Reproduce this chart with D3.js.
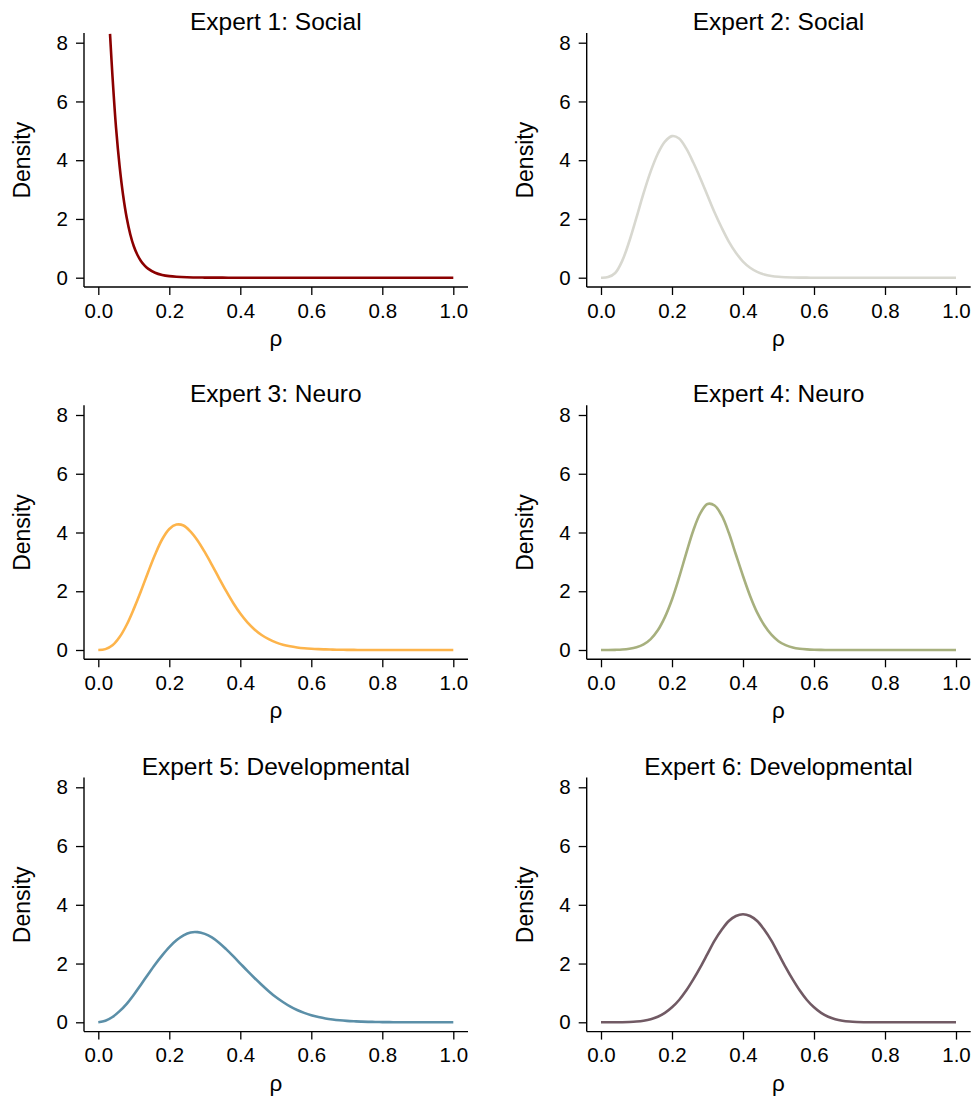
<!DOCTYPE html>
<html>
<head>
<meta charset="utf-8">
<script src="https://cdn.jsdelivr.net/npm/d3@7"></script>
<style>
  body { margin: 0; background: #fff; }
  text { font-family: "Liberation Sans", Arial, Helvetica, sans-serif; fill: #000; }
</style>
</head>
<body>
<script>

var width  = 973;
var height = 1096;

// panel titles and line colours
var titles = [
    'Expert 1: Social', 'Expert 2: Social'
  , 'Expert 3: Neuro',  'Expert 4: Neuro'
  , 'Expert 5: Developmental', 'Expert 6: Developmental'
];
var colors = ['#8b0000', '#d8d8d0', '#fdb44b', '#a7b07e', '#5b8fa8', '#715a64'];

var xTicks = [0, 0.2, 0.4, 0.6, 0.8, 1.0];
var yTicks = [0, 2, 4, 6, 8];

// expert 1 is very steep near zero, so it gets its own grid
var rhoExpert1  = [0.033, 0.04, 0.05, 0.06, 0.07, 0.08, 0.09, 0.10, 0.11, 0.12, 0.13, 0.14,
                   0.16, 0.18, 0.20, 0.22, 0.25, 0.30, 0.35, 0.40, 0.50, 0.60, 0.70, 0.80, 0.90, 1.00];
var densExpert1 = [8.3, 6.85, 5.1, 3.8, 2.8, 2.04, 1.48, 1.07, 0.78, 0.57, 0.42, 0.31,
                   0.17, 0.095, 0.053, 0.03, 0.013, 0.004, 0.001, 0, 0, 0, 0, 0, 0, 0];

// shared grid for experts 2-6
var rho = [0.00, 0.02, 0.04, 0.06, 0.08, 0.10, 0.12, 0.14, 0.16, 0.18,
           0.20, 0.22, 0.24, 0.26, 0.28, 0.30, 0.32, 0.34, 0.36, 0.38,
           0.40, 0.42, 0.44, 0.46, 0.48, 0.50, 0.52, 0.54, 0.56, 0.58,
           0.60, 0.62, 0.64, 0.66, 0.68, 0.70, 0.72, 0.74, 0.76, 0.78,
           0.80, 0.82, 0.84, 0.86, 0.88, 0.90, 0.92, 0.94, 0.96, 0.98, 1.00];

var densExpert2 = [0, 0.02, 0.16, 0.58, 1.25, 2.05, 2.88, 3.62, 4.22, 4.63,
                   4.82, 4.74, 4.4, 3.92, 3.38, 2.8, 2.22, 1.7, 1.23, 0.85,
                   0.55, 0.34, 0.2, 0.11, 0.06, 0.03, 0.015, 0.007, 0.003, 0.001,
                   0, 0, 0, 0, 0, 0, 0, 0, 0, 0,
                   0, 0, 0, 0, 0, 0, 0, 0, 0, 0, 0];

var densExpert3 = [0, 0.03, 0.16, 0.44, 0.86, 1.4, 2.0, 2.64, 3.25, 3.77,
                   4.12, 4.27, 4.24, 4.03, 3.72, 3.33, 2.9, 2.45, 2.01, 1.6,
                   1.24, 0.94, 0.7, 0.51, 0.37, 0.26, 0.18, 0.125, 0.087, 0.06,
                   0.042, 0.029, 0.02, 0.013, 0.008, 0.005, 0.003, 0.001, 0, 0,
                   0, 0, 0, 0, 0, 0, 0, 0, 0, 0, 0];

var densExpert4 = [0, 0.001, 0.005, 0.015, 0.042, 0.093, 0.19, 0.37, 0.67, 1.12,
                   1.72, 2.47, 3.29, 4.07, 4.66, 4.97, 4.92, 4.58, 3.99, 3.25,
                   2.52, 1.84, 1.27, 0.84, 0.52, 0.3, 0.165, 0.085, 0.042, 0.02,
                   0.009, 0.004, 0.001, 0, 0, 0, 0, 0, 0, 0,
                   0, 0, 0, 0, 0, 0, 0, 0, 0, 0, 0];

var densExpert5 = [0, 0.05, 0.18, 0.38, 0.63, 0.94, 1.28, 1.63, 1.97, 2.28,
                   2.56, 2.79, 2.96, 3.06, 3.07, 3.01, 2.89, 2.71, 2.49, 2.25,
                   2.0, 1.75, 1.51, 1.28, 1.06, 0.86, 0.69, 0.54, 0.42, 0.32,
                   0.24, 0.18, 0.13, 0.095, 0.068, 0.048, 0.034, 0.023, 0.016, 0.011,
                   0.007, 0.005, 0.003, 0.002, 0.001, 0, 0, 0, 0, 0, 0];

var densExpert6 = [0, 0, 0.001, 0.004, 0.011, 0.026, 0.055, 0.105, 0.19, 0.32,
                   0.51, 0.76, 1.08, 1.46, 1.88, 2.33, 2.78, 3.15, 3.45, 3.62,
                   3.68, 3.62, 3.45, 3.15, 2.78, 2.33, 1.88, 1.46, 1.08, 0.76,
                   0.51, 0.32, 0.19, 0.105, 0.055, 0.026, 0.011, 0.004, 0.001, 0,
                   0, 0, 0, 0, 0, 0, 0, 0, 0, 0, 0];

var panels = [
    { xs: rhoExpert1, ys: densExpert1 }
  , { xs: rho, ys: densExpert2 }
  , { xs: rho, ys: densExpert3 }
  , { xs: rho, ys: densExpert4 }
  , { xs: rho, ys: densExpert5 }
  , { xs: rho, ys: densExpert6 }
];

var svg = d3.select('body')
            .append('svg')
            .attr('width', width)
            .attr('height', height);

// one panel box is the area the axis lines span
var panelW = 384;
var panelH = 254;

var x = d3.scaleLinear().domain([0, 1]).range([14.3, 369.3]);
var y = d3.scaleLinear().domain([0, 8]).range([244.7, 9.7]);

var line = d3.line()
             .x(function(d){ return x(d[0]); })
             .y(function(d){ return y(d[1]); })
             .curve(d3.curveCatmullRom.alpha(0.5));

panels.forEach(function(p, i){
    var col = i % 2;
    var row = Math.floor(i / 2);

    var g = svg.append('g')
               .attr('transform', 'translate(' + (84 + col * 502.7) + ',' + (33 + row * 372.3) + ')');

    // x axis
    var gx = g.append('g')
              .attr('transform', 'translate(0,' + panelH + ')')
              .call(d3.axisBottom(x)
                      .tickValues(xTicks)
                      .tickFormat(d3.format('.1f'))
                      .tickSize(8)
                      .tickPadding(8));
    gx.select('.domain').remove();

    // y axis
    var gy = g.append('g')
              .call(d3.axisLeft(y)
                      .tickValues(yTicks)
                      .tickFormat(d3.format('d'))
                      .tickSize(8)
                      .tickPadding(8));
    gy.select('.domain').remove();

    g.selectAll('.tick line').attr('stroke', '#000').attr('stroke-width', 1.3);
    g.selectAll('.tick text')
     .attr('font-size', 20.5)
     .attr('font-family', '"Liberation Sans", Arial, Helvetica, sans-serif')
     .attr('fill', '#000');

    g.append('line')
     .attr('x1', 0).attr('x2', panelW)
     .attr('y1', panelH).attr('y2', panelH)
     .attr('stroke', '#000').attr('stroke-width', 1.4);
    g.append('line')
     .attr('x1', 0).attr('x2', 0)
     .attr('y1', 0).attr('y2', panelH)
     .attr('stroke', '#000').attr('stroke-width', 1.4);

    // density curve
    var pts = p.xs.map(function(v, k){ return [v, p.ys[k]]; });
    g.append('path')
     .datum(pts)
     .attr('d', line)
     .attr('fill', 'none')
     .attr('stroke', colors[i])
     .attr('stroke-width', 2.6)
     .attr('stroke-linejoin', 'round');

    // labels
    g.append('text')
     .attr('x', (x(0) + x(1)) / 2)
     .attr('y', -3)
     .attr('text-anchor', 'middle')
     .attr('font-size', 24.5)
     .text(titles[i]);

    g.append('text')
     .attr('x', (x(0) + x(1)) / 2)
     .attr('y', 313)
     .attr('text-anchor', 'middle')
     .attr('font-size', 22.5)
     .text('ρ');

    g.append('text')
     .attr('transform', 'translate(-54,' + ((y(0) + y(8)) / 2) + ') rotate(-90)')
     .attr('text-anchor', 'middle')
     .attr('font-size', 23)
     .text('Density');
});

</script>
</body>
</html>
